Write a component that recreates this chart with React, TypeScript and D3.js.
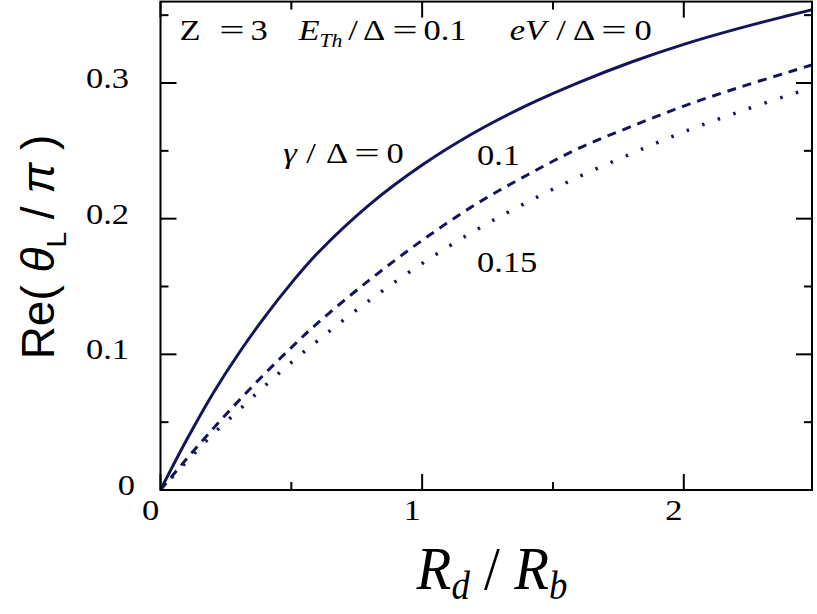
import React, { useEffect, useRef } from 'react';
import * as d3 from 'd3';

// R_d / R_b sample points
const rdRb = [0, 0.1, 0.2, 0.3, 0.4, 0.5, 0.6, 0.8, 1.0, 1.2, 1.4, 1.6, 1.8, 2.0, 2.2, 2.4, 2.5];
// Re(theta_L / pi) for gamma/Delta = 0, 0.1, 0.15
const gamma0 = [0, 0.037, 0.071, 0.101, 0.128, 0.1525, 0.1745, 0.2105, 0.2395, 0.2635, 0.2835, 0.3005, 0.3155, 0.3285, 0.3397, 0.3497, 0.3545];
const gamma01 = [0, 0.023, 0.045, 0.066, 0.086, 0.105, 0.123, 0.155, 0.184, 0.210, 0.232, 0.252, 0.268, 0.283, 0.296, 0.308, 0.314];
const gamma015 = [0, 0.021, 0.041, 0.059, 0.077, 0.094, 0.110, 0.140, 0.167, 0.191, 0.212, 0.231, 0.248, 0.264, 0.278, 0.291, 0.297];

const xMajor = [0, 1, 2];
const xMinor = [0.5, 1.5];
const yMajor = [0, 0.1, 0.2, 0.3];
const yMinor = [0.05, 0.15, 0.25, 0.35];

const SERIF = '"Liberation Serif", "Times New Roman", serif';
const SANS = '"Liberation Sans", Arial, sans-serif';
const INK = '#14145a';
const SX = 1.15; // the original figure is stretched horizontally

const App = () => {
  const svgRef = useRef<SVGSVGElement | null>(null);

  useEffect(() => {
    document.body.style.margin = '0';
    if (!svgRef.current) return;
    const svg = d3.select(svgRef.current);
    svg.selectAll('*').remove();

    const x = d3.scaleLinear().domain([0, 2.49]).range([160.5, 812]);
    const y = d3.scaleLinear().domain([0, 0.36]).range([490, 1.6]);
    const [x0, x1] = x.range();
    const [y0, y1] = y.range();

    // stretched serif text helper
    const label = (
      px: number, py: number, txt: string,
      opts: { size?: number; italic?: boolean; anchor?: string; sx?: number } = {}
    ) => {
      svg.append('g')
        .attr('transform', `translate(${px},${py}) scale(${opts.sx ?? SX},1)`)
        .append('text')
        .attr('font-family', SERIF)
        .attr('font-size', opts.size ?? 30)
        .attr('font-style', opts.italic ? 'italic' : 'normal')
        .attr('text-anchor', opts.anchor ?? 'middle')
        .attr('fill', '#000')
        .text(txt);
    };
    const eq = (px: number, py: number) => label(px, py, '=', { sx: 1.5 });

    // curves
    svg.append('clipPath').attr('id', 'plotClip')
      .append('rect')
      .attr('x', x0).attr('y', y1)
      .attr('width', x1 - x0).attr('height', y0 - y1);

    const line = d3.line<number>()
      .x((_, i) => x(rdRb[i]))
      .y(d => y(d))
      .curve(d3.curveCatmullRom.alpha(0.5));

    const series = [
      { values: gamma0, dash: null, width: 3 },
      { values: gamma01, dash: '9,7', width: 3 },
      { values: gamma015, dash: '2.5,14', width: 3.5 },
    ];
    const g = svg.append('g').attr('clip-path', 'url(#plotClip)');
    series.forEach(s => {
      g.append('path')
        .attr('d', line(s.values) as string)
        .attr('fill', 'none')
        .attr('stroke', INK)
        .attr('stroke-width', s.width)
        .attr('stroke-dasharray', s.dash);
    });

    // frame
    svg.append('rect')
      .attr('x', x0).attr('y', y1)
      .attr('width', x1 - x0).attr('height', y0 - y1)
      .attr('fill', 'none').attr('stroke', '#000').attr('stroke-width', 2);

    // inward ticks on all sides
    const ticks = svg.append('g').attr('stroke', '#000').attr('stroke-width', 2);
    const xTick = (v: number, len: number) => {
      ticks.append('line').attr('x1', x(v)).attr('x2', x(v)).attr('y1', y0).attr('y2', y0 - len);
      ticks.append('line').attr('x1', x(v)).attr('x2', x(v)).attr('y1', y1).attr('y2', y1 + len);
    };
    const yTick = (v: number, len: number) => {
      ticks.append('line').attr('y1', y(v)).attr('y2', y(v)).attr('x1', x0).attr('x2', x0 + len);
      ticks.append('line').attr('y1', y(v)).attr('y2', y(v)).attr('x1', x1).attr('x2', x1 - len);
    };
    xMajor.forEach(v => xTick(v, 16));
    xMinor.forEach(v => xTick(v, 8));
    yMajor.forEach(v => yTick(v, 16));
    yMinor.forEach(v => yTick(v, 8));

    // tick labels
    xMajor.forEach(v => label(x(v) - 10, 520, String(v)));
    yMajor.forEach(v => label(v === 0 ? 135 : 129, y(v) + 5, v === 0 ? '0' : v.toFixed(1), { anchor: 'end' }));

    // x axis title
    const xt = svg.append('g')
      .attr('transform', `translate(492,589) scale(0.92,1)`)
      .append('text')
      .attr('font-family', SERIF)
      .attr('font-size', 62)
      .attr('font-style', 'italic')
      .attr('text-anchor', 'middle');
    xt.append('tspan').text('R');
    xt.append('tspan').attr('font-size', 40).attr('dy', 10).text('d');
    xt.append('tspan').attr('dy', -10).attr('font-style', 'normal').text(' / ');
    xt.append('tspan').text('R');
    xt.append('tspan').attr('font-size', 40).attr('dy', 10).text('b');

    // y axis title
    const yt = svg.append('text')
      .attr('transform', 'translate(54,247) rotate(-90)')
      .attr('font-family', SANS)
      .attr('font-size', 46)
      .attr('text-anchor', 'middle');
    yt.append('tspan').text('Re( ');
    yt.append('tspan').attr('font-style', 'italic').text('θ');
    yt.append('tspan').attr('font-size', 28).attr('dy', 12).text('L');
    yt.append('tspan').attr('dy', -12).text(' / ');
    yt.append('tspan').attr('font-style', 'italic').text('π');
    yt.append('tspan').text(' )');

    // parameter line at the top
    label(190, 40, 'Z');
    eq(232, 40);
    label(259, 40, '3');
    label(309, 40, 'E', { italic: true });
    label(331, 47, 'Th', { italic: true, size: 19 });
    label(353, 40, '/');
    label(374, 40, 'Δ');
    eq(405, 40);
    label(445, 40, '0.1');
    label(528, 40, 'eV', { italic: true });
    label(561, 40, '/');
    label(584, 40, 'Δ');
    eq(614, 40);
    label(643, 40, '0');

    // curve labels
    label(290, 163, 'γ', { italic: true });
    label(311, 163, '/');
    label(337, 163, 'Δ');
    eq(367, 163);
    label(395, 163, '0');
    label(477, 165, '0.1', { anchor: 'start' });
    label(477, 272, '0.15', { anchor: 'start' });
  }, []);

  return (
    <div style={{ width: 817, height: 614 }}>
      <svg ref={svgRef} width={817} height={614} style={{ display: 'block', background: '#fff' }}></svg>
    </div>
  );
};

export default App;
